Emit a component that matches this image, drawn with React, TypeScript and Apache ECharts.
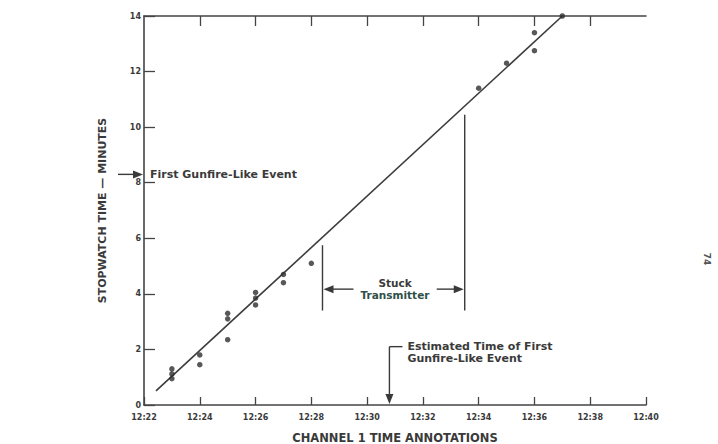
import React, { useEffect, useRef } from "react";
import * as echarts from "echarts";

// ---- data ----
const xTickMinutes = [22, 24, 26, 28, 30, 32, 34, 36, 38, 40];
const topTickMinutes = [24, 26, 28, 30, 32, 34, 36, 38];
const yTickValues = [0, 2, 4, 6, 8, 10, 12, 14];

const obsMinute = [23, 23, 23, 24, 24, 25, 25, 25, 26, 26, 26, 27, 27, 28, 34, 35, 36, 36, 37];
const obsStopwatch = [1.3, 1.12, 0.95, 1.8, 1.45, 3.3, 3.1, 2.35, 4.05, 3.85, 3.6, 4.7, 4.4, 5.1, 11.4, 12.3, 13.4, 12.75, 14.0];

const fitMinute = [22.43, 37.0];
const fitStopwatch = [0.51, 14.0];

// annotation anchors (data units)
const firstEventLevel = 8.3;
const stuckStartMinute = 28.4;
const stuckEndMinute = 33.5;
const stuckLeftTop = 5.75;
const stuckRightTop = 10.45;
const stuckBottom = 3.4;
const stuckArrowLevel = 4.17;
const stuckTextMinute = 31.0;
const estimatedMinute = 30.8;
const estimatedTop = 2.1;

const INK = "#3a3a3a";
const FONT = '"DejaVu Sans", "Liberation Sans", sans-serif';

export default function App() {
  const ref = useRef<HTMLDivElement>(null);

  useEffect(() => {
    if (!ref.current) return;
    const chart = echarts.init(ref.current, undefined, { renderer: "svg" });

    const points = obsMinute.map((m, i) => [m, obsStopwatch[i]]);
    const fit = fitMinute.map((m, i) => [m, fitStopwatch[i]]);

    chart.setOption({
      animation: false,
      backgroundColor: "#ffffff",
      grid: { left: 144, right: 72, top: 16, bottom: 39, containLabel: false, outerBoundsMode: "none" },
      xAxis: [
        {
          type: "value",
          min: 22,
          max: 40,
          interval: 2,
          position: "bottom",
          name: "CHANNEL 1 TIME ANNOTATIONS",
          nameLocation: "middle",
          nameGap: 27,
          nameTextStyle: { fontFamily: FONT, fontWeight: "bold", fontSize: 11.5, color: INK },
          axisLine: { show: true, onZero: false, lineStyle: { color: "#444", width: 1.6 } },
          axisTick: { show: true, inside: true, length: 8, lineStyle: { color: "#444", width: 1.3 }, customValues: xTickMinutes },
          axisLabel: {
            margin: 8,
            fontFamily: FONT,
            fontWeight: "bold",
            fontSize: 8,
            color: INK,
            customValues: xTickMinutes,
            formatter: (v: number) => "12:" + String(v),
          },
          splitLine: { show: false },
        },
        {
          type: "value",
          min: 22,
          max: 40,
          interval: 2,
          position: "top",
          axisLine: { show: true, onZero: false, lineStyle: { color: "#444", width: 1.6 } },
          axisTick: { show: true, inside: true, length: 10, lineStyle: { color: "#444", width: 1.3 }, customValues: topTickMinutes },
          axisLabel: { show: false },
          splitLine: { show: false },
        },
      ],
      yAxis: {
        type: "value",
        min: 0,
        max: 14,
        interval: 2,
        name: "STOPWATCH TIME — MINUTES",
        nameLocation: "middle",
        nameGap: 36,
        nameTextStyle: { fontFamily: FONT, fontWeight: "bold", fontSize: 11, color: INK },
        axisLine: { show: true, onZero: false, lineStyle: { color: "#444", width: 1.6 } },
        axisTick: { show: true, inside: true, length: 11, lineStyle: { color: "#444", width: 1.3 }, customValues: yTickValues },
        axisLabel: { margin: 3, fontFamily: FONT, fontWeight: "bold", fontSize: 8, color: INK, customValues: yTickValues },
        splitLine: { show: false },
      },
      series: [
        {
          type: "scatter",
          data: points,
          symbol: "circle",
          symbolSize: 5.5,
          itemStyle: { color: "#2e2e2e" },
          clip: false,
          z: 3,
        },
        {
          type: "line",
          data: fit,
          showSymbol: false,
          symbol: "none",
          lineStyle: { color: "#3c3c3c", width: 1.6 },
          z: 2,
        },
      ],
    });

    const P = (x: number, y: number): number[] =>
      chart.convertToPixel({ seriesIndex: 0 }, [x, y]) as number[];

    const head = (tip: number[], dx: number, dy: number, len = 9, half = 3.5) => {
      const px = -dy, py = dx;
      return {
        type: "polygon",
        shape: {
          points: [
            [tip[0], tip[1]],
            [tip[0] - dx * len + px * half, tip[1] - dy * len + py * half],
            [tip[0] - dx * len - px * half, tip[1] - dy * len - py * half],
          ],
        },
        style: { fill: INK },
        z: 10,
      };
    };
    const seg = (a: number[], b: number[], w = 1.4) => ({
      type: "line",
      shape: { x1: a[0], y1: a[1], x2: b[0], y2: b[1] },
      style: { stroke: INK, lineWidth: w },
      z: 10,
    });
    const txt = (x: number, y: number, s: string, align: string, size = 11, fill = INK) => ({
      type: "text",
      x,
      y,
      style: {
        text: s,
        fontFamily: FONT,
        fontWeight: "bold",
        fontSize: size,
        fill,
        textAlign: align,
        textVerticalAlign: "middle",
        textBaseline: "middle",
      },
      z: 10,
    });

    // first gunfire-like event arrow (left of axis)
    const fe = P(22, firstEventLevel);
    const feTip = [fe[0] - 1, fe[1]];
    const feStart = [fe[0] - 26, fe[1]];

    // stuck transmitter
    const sl0 = P(stuckStartMinute, stuckLeftTop);
    const sl1 = P(stuckStartMinute, stuckBottom);
    const sr0 = P(stuckEndMinute, stuckRightTop);
    const sr1 = P(stuckEndMinute, stuckBottom);
    const la = P(stuckStartMinute, stuckArrowLevel);
    const ra = P(stuckEndMinute, stuckArrowLevel);
    const st = P(stuckTextMinute, stuckArrowLevel);

    // estimated time arrow
    const e0 = P(estimatedMinute, estimatedTop);
    const e1 = P(estimatedMinute, 0);

    const graphics: any[] = [
      seg(feStart, [feTip[0] - 8, feTip[1]]),
      head(feTip, 1, 0, 10, 4),
      txt(fe[0] + 6, fe[1], "First Gunfire-Like Event", "left"),

      seg(sl0, sl1),
      seg(sr0, sr1),
      seg([la[0] + 8, la[1]], [la[0] + 31, la[1]]),
      head([la[0] + 1, la[1]], -1, 0, 10, 4),
      seg([ra[0] - 28, ra[1]], [ra[0] - 8, ra[1]]),
      head([ra[0] - 1, ra[1]], 1, 0, 10, 4),
      txt(st[0], st[1] - 6, "Stuck", "center", 10.5),
      txt(st[0], st[1] + 6, "Transmitter", "center", 10.5, "#2f4f48"),

      seg(e0, [e1[0], e1[1] - 9]),
      head([e1[0], e1[1] - 1], 0, 1, 10, 4),
      seg(e0, [e0[0] + 13, e0[1]]),
      txt(e0[0] + 18, e0[1], "Estimated Time of First", "left"),
      txt(e0[0] + 18, e0[1] + 12, "Gunfire-Like Event", "left"),

      {
        type: "text",
        x: 707,
        y: 259,
        rotation: -Math.PI / 2,
        style: {
          text: "74",
          fontFamily: FONT,
          fontWeight: "bold",
          fontSize: 9,
          fill: "#555",
          textAlign: "center",
          textVerticalAlign: "middle",
          textBaseline: "middle",
        },
      },
    ];

    chart.setOption({ graphic: graphics });

    return () => chart.dispose();
  }, []);

  return (
    <div
      ref={ref}
      style={{ position: "absolute", left: 0, top: 0, width: 718, height: 444 }}
    />
  );
}
